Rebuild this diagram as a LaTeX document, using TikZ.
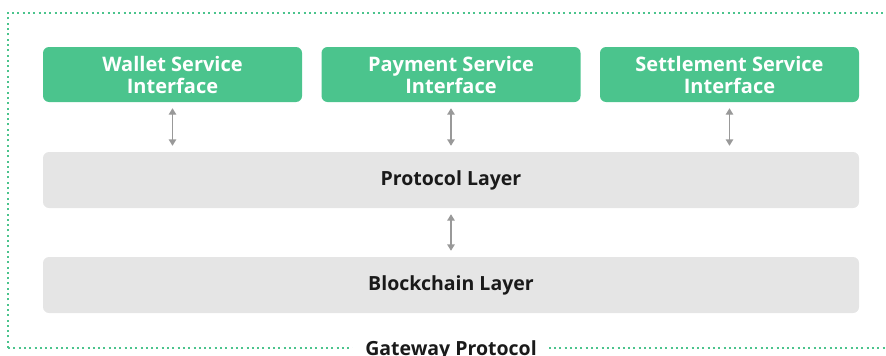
\documentclass[tikz,border=0pt]{standalone}
\usepackage{fontspec}
\setmainfont{Open Sans}
\usetikzlibrary{arrows.meta}
\definecolor{gGreen}{HTML}{4BC48D}
\definecolor{gGray}{HTML}{E5E5E5}
\definecolor{gArrow}{HTML}{999999}
\definecolor{gText}{HTML}{1A1A1A}
\tikzset{
  svc/.style={fill=gGreen, rounded corners=6pt, minimum width=259pt, minimum height=55pt, inner sep=0pt,
    text=white, font=\fontsize{20}{22}\selectfont\bfseries, align=center},
  layer/.style={fill=gGray, rounded corners=6pt, minimum width=816pt, minimum height=56pt, inner sep=0pt,
    text=gText, font=\fontsize{19.5}{22}\selectfont\bfseries},
  link/.style={draw=gArrow, line width=1.4pt, {Triangle[width=7.5pt,length=6.5pt]}-{Triangle[width=7.5pt,length=6.5pt]}, shorten <=6pt, shorten >=6pt},
  frame/.style={draw=gGreen, line width=2pt, dash pattern=on 2pt off 3.3pt},
}
\begin{document}
\begin{tikzpicture}[x=1pt,y=-1pt]
\useasboundingbox (0,0) rectangle (886,356);
\draw[frame] (8,348) -- (8,13) -- (900,13);
\draw[frame] (8,348) -- (900,348);
\node[svc] (wallet) at (172.5,74.5) {Wallet Service\\Interface};
\node[svc] (payment) at (451,74.5) {Payment Service\\Interface};
\node[svc] (settle) at (729.5,74.5) {Settlement Service\\Interface};
\node[layer] (proto) at (451,180) {Protocol Layer};
\node[layer] (chain) at (451,285) {Blockchain Layer};
\draw[link] (wallet.south) -- (wallet.south |- proto.north);
\draw[link] (payment.south) -- (payment.south |- proto.north);
\draw[link] (settle.south) -- (settle.south |- proto.north);
\draw[link] (proto.south) -- (chain.north);
\node[fill=white, inner xsep=12pt, inner ysep=2pt, text=gText, font=\fontsize{19.5}{22}\selectfont\bfseries, anchor=base] (gw) at (451,355) {Gateway Protocol};
\end{tikzpicture}
\end{document}
